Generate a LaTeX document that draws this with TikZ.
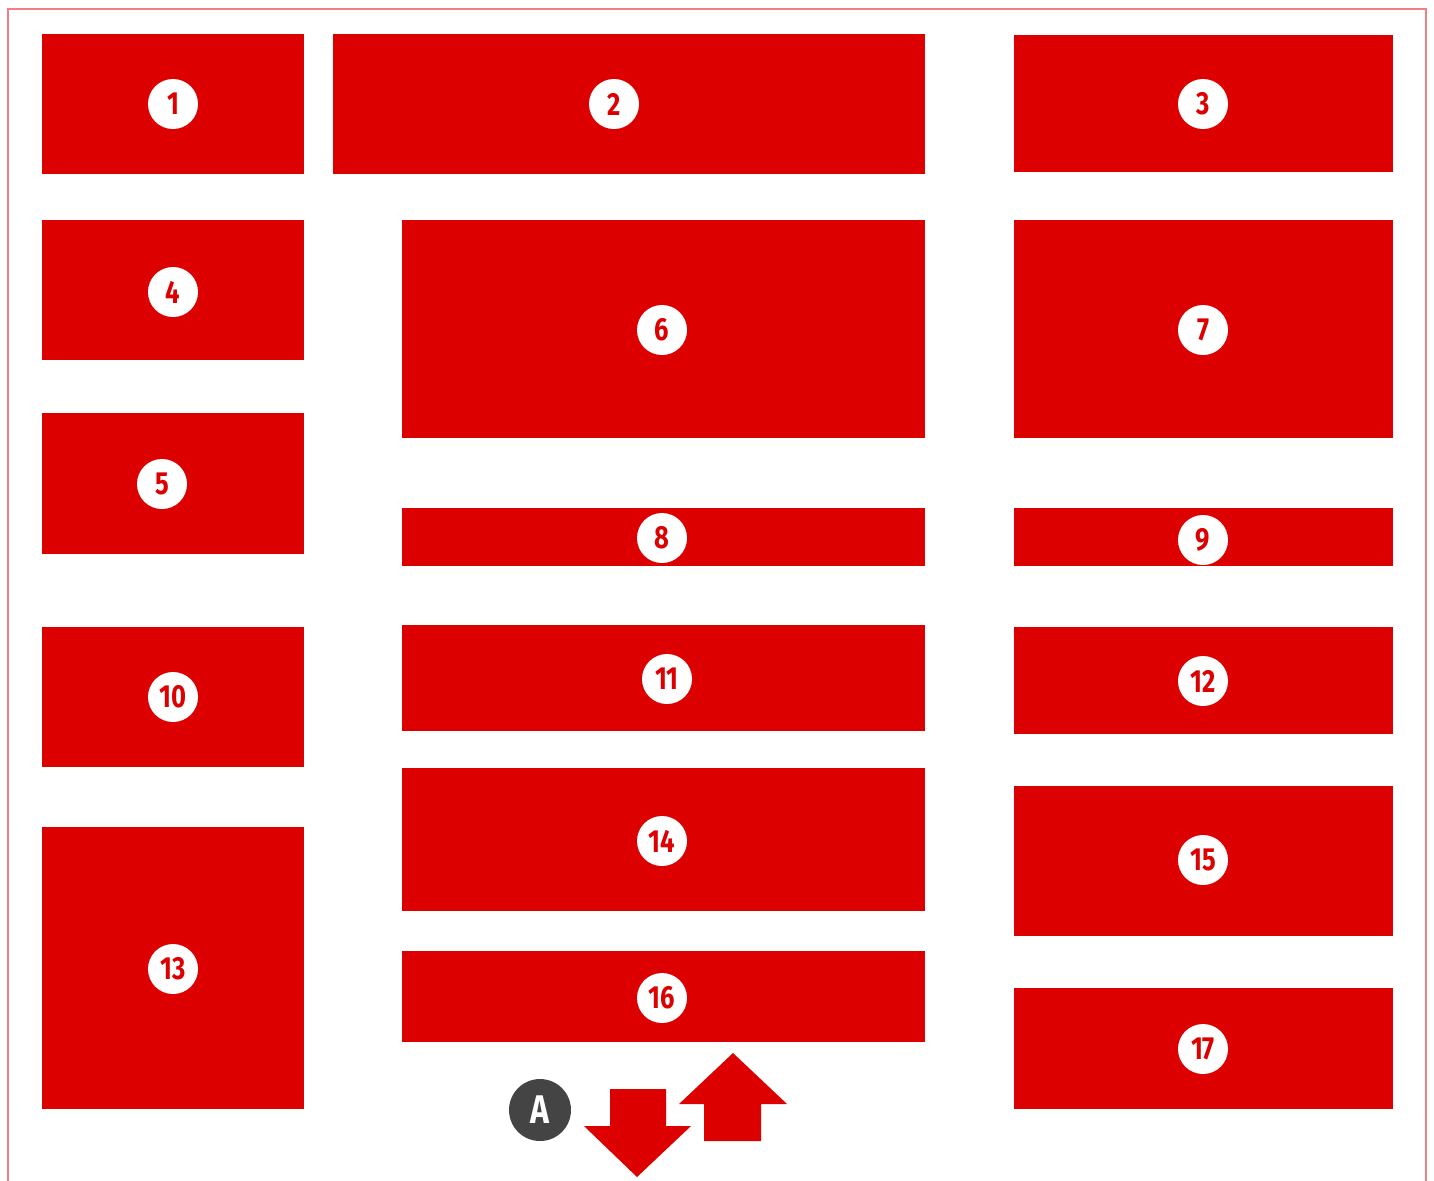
\documentclass[tikz,border=0pt]{standalone}
\usepackage{fontspec}
\setmainfont{Fira Sans}
\definecolor{boxred}{HTML}{DD0000}
\definecolor{framered}{HTML}{F08080}
\definecolor{darkgray}{HTML}{444444}
\tikzset{
  redbox/.style={fill=boxred, draw=none},
  numcirc/.style={circle, fill=white, draw=none, minimum size=25pt, inner sep=0pt,
    text=boxred, font=\fontsize{16}{16}\selectfont\bfseries},
  lettercirc/.style={circle, fill=darkgray, draw=none, minimum size=31pt, inner sep=0pt,
    text=white, font=\fontsize{20}{20}\selectfont\bfseries},
  frame/.style={draw=framered, line width=1pt},
  bigarrow/.style={fill=boxred, draw=none}
}
\newcommand{\numtxt}[1]{\scalebox{0.8}[1]{#1}}
\newcommand{\bx}[8]{%
  \fill[redbox] (#2,#3) rectangle (#4,#5);
  \node[numcirc] (n#1) at (#6,#7) {\numtxt{#8}};
}
\begin{document}
\begin{tikzpicture}[x=0.5pt,y=-0.5pt]
\useasboundingbox (0,0) rectangle (1434,1180);
\draw[frame] (8,1182) -- (8,9) -- (1426,9) -- (1426,1182);
\bx{1}{42}{34}{304}{174}{173}{104}{1}
\bx{2}{333}{34}{925}{174}{614}{104}{2}
\bx{3}{1014}{35}{1393}{172}{1203}{104}{3}
\bx{4}{42}{220}{304}{360}{173}{292}{4}
\bx{5}{42}{413}{304}{554}{162}{484}{5}
\bx{6}{402}{220}{925}{438}{662}{330}{6}
\bx{7}{1014}{220}{1393}{438}{1203}{330}{7}
\bx{8}{402}{508}{925}{566}{662}{538}{8}
\bx{9}{1014}{508}{1393}{566}{1203}{540}{9}
\bx{10}{42}{627}{304}{767}{173}{697}{10}
\bx{11}{402}{625}{925}{731}{667}{679}{11}
\bx{12}{1014}{627}{1393}{734}{1203}{681}{12}
\bx{13}{42}{827}{304}{1109}{173}{969}{13}
\bx{14}{402}{768}{925}{911}{662}{841}{14}
\bx{15}{1014}{786}{1393}{936}{1203}{860}{15}
\bx{16}{402}{951}{925}{1042}{662}{998}{16}
\bx{17}{1014}{988}{1393}{1109}{1203}{1049}{17}
\node[lettercirc] (A) at (540,1110) {\numtxt{A}};
\fill[bigarrow] (610,1089) -- (666,1089) -- (666,1126) -- (691,1126) -- (637,1177) -- (584,1126) -- (610,1126) -- cycle;
\fill[bigarrow] (704,1141) -- (761,1141) -- (761,1104) -- (787,1104) -- (733,1053) -- (679,1104) -- (704,1104) -- cycle;
\end{tikzpicture}
\end{document}
